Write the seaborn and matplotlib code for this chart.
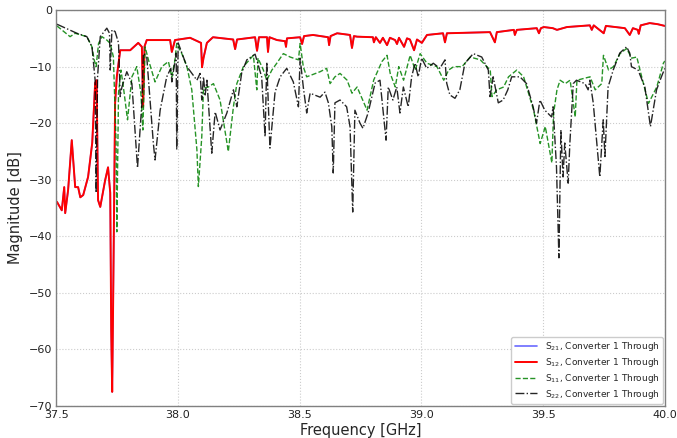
import numpy as np
import pandas as pd
import matplotlib
matplotlib.use("Agg")
import matplotlib.pyplot as plt
import seaborn as sns

# S12 (S21 lies underneath, same trace)
f_s12 = [37.503, 37.523, 37.533, 37.537, 37.549, 37.564, 37.578, 37.590, 37.599, 37.611,
         37.631, 37.648, 37.660, 37.666, 37.672, 37.681, 37.701, 37.713, 37.722, 37.726,
         37.730, 37.734, 37.742, 37.749, 37.763, 37.804, 37.837, 37.852, 37.857, 37.863,
         37.872, 37.968, 37.975, 37.988, 38.050, 38.095, 38.099, 38.105, 38.119, 38.144,
         38.227, 38.235, 38.243, 38.317, 38.325, 38.333, 38.366, 38.370, 38.376, 38.407,
         38.440, 38.444, 38.448, 38.502, 38.510, 38.518, 38.555, 38.617, 38.621, 38.627,
         38.654, 38.707, 38.715, 38.723, 38.736, 38.801, 38.805, 38.813, 38.830, 38.842,
         38.859, 38.871, 38.892, 38.900, 38.908, 38.929, 38.941, 38.953, 38.970, 38.982,
         39.002, 39.023, 39.089, 39.097, 39.105, 39.282, 39.302, 39.310, 39.380, 39.384,
         39.392, 39.474, 39.483, 39.491, 39.503, 39.540, 39.557, 39.598, 39.692, 39.700,
         39.708, 39.749, 39.758, 39.836, 39.856, 39.869, 39.889, 39.893, 39.901, 39.938,
         39.971, 40.000]
db_s12 = [-33.9, -35.4, -31.3, -35.9, -31.8, -23.0, -31.3, -31.3, -33.1, -32.7,
          -29.5, -23.5, -12.9, -12.4, -33.6, -34.8, -30.1, -27.8, -32.3, -56.6,
          -67.5, -51.3, -16.4, -11.8, -7.1, -7.1, -5.8, -6.5, -17.1, -6.4,
          -5.3, -5.3, -7.4, -5.3, -4.9, -5.8, -10.1, -8.5, -5.8, -4.8,
          -5.2, -6.9, -5.2, -4.8, -7.2, -4.8, -4.8, -7.4, -4.8, -5.3,
          -5.5, -6.5, -5.0, -4.8, -6.0, -4.6, -4.4, -4.8, -6.2, -4.6,
          -4.1, -4.4, -6.7, -4.6, -4.7, -4.8, -5.7, -4.8, -5.8, -4.9,
          -6.2, -4.9, -5.3, -6.0, -4.9, -6.5, -5.0, -5.2, -7.1, -5.2,
          -5.8, -4.4, -4.1, -5.7, -4.1, -3.9, -5.7, -3.9, -3.5, -4.4,
          -3.5, -3.2, -4.1, -3.2, -3.0, -3.2, -3.5, -3.0, -2.7, -3.5,
          -2.7, -4.1, -2.8, -3.2, -4.4, -3.2, -3.5, -4.2, -2.7, -2.3,
          -2.5, -2.8]

# S11
f_s11 = [37.503, 37.557, 37.578, 37.626, 37.647, 37.656, 37.664, 37.674, 37.688, 37.708,
         37.722, 37.735, 37.746, 37.749, 37.756, 37.766, 37.776, 37.793, 37.811, 37.831,
         37.848, 37.856, 37.865, 37.879, 37.906, 37.934, 37.961, 37.975, 37.988, 37.995,
         38.016, 38.037, 38.057, 38.078, 38.084, 38.098, 38.105, 38.125, 38.146, 38.173,
         38.207, 38.228, 38.242, 38.269, 38.310, 38.324, 38.329, 38.351, 38.365, 38.386,
         38.406, 38.433, 38.461, 38.495, 38.502, 38.515, 38.529, 38.584, 38.611, 38.625,
         38.645, 38.666, 38.695, 38.715, 38.736, 38.777, 38.804, 38.838, 38.859, 38.872,
         38.893, 38.907, 38.927, 38.954, 38.975, 38.995, 39.023, 39.064, 39.092, 39.112,
         39.133, 39.167, 39.201, 39.242, 39.283, 39.290, 39.310, 39.338, 39.358, 39.392,
         39.420, 39.461, 39.488, 39.509, 39.536, 39.543, 39.557, 39.570, 39.591, 39.611,
         39.632, 39.639, 39.693, 39.714, 39.741, 39.748, 39.769, 39.789, 39.816, 39.843,
         39.864, 39.885, 39.898, 39.933, 39.967, 39.994, 40.000]
db_s11 = [-2.8, -4.7, -4.1, -4.7, -6.5, -8.8, -10.0, -5.9, -4.7, -5.3,
          -5.9, -8.3, -23.5, -39.2, -14.7, -10.6, -13.6, -19.4, -11.8, -10.0,
          -14.7, -21.2, -6.5, -8.8, -12.7, -10.0, -9.1, -11.8, -8.8, -5.9,
          -7.7, -10.0, -14.1, -24.7, -31.2, -22.4, -13.8, -13.6, -13.0, -15.9,
          -25.0, -17.1, -13.0, -10.0, -8.0, -14.1, -8.5, -10.6, -12.4, -10.6,
          -9.4, -7.7, -8.3, -8.8, -5.9, -10.0, -11.8, -10.9, -10.3, -13.0,
          -11.8, -11.2, -12.4, -14.7, -13.6, -17.7, -12.4, -9.1, -8.0, -11.2,
          -13.6, -10.0, -12.4, -8.0, -10.6, -7.7, -9.4, -10.0, -12.4, -10.6,
          -10.0, -10.0, -8.3, -8.8, -10.6, -15.3, -14.1, -13.6, -11.8, -10.6,
          -11.8, -17.7, -23.6, -20.6, -27.0, -18.3, -14.1, -12.4, -13.0, -12.4,
          -18.9, -12.4, -11.8, -14.1, -13.0, -8.0, -10.6, -10.0, -7.7, -6.8,
          -8.5, -8.3, -10.6, -16.5, -13.6, -9.4, -9.0]

# S22
f_s22 = [37.503, 37.585, 37.626, 37.647, 37.660, 37.664, 37.670, 37.681, 37.708, 37.719,
         37.722, 37.729, 37.742, 37.756, 37.763, 37.770, 37.790, 37.811, 37.834, 37.852,
         37.858, 37.872, 37.899, 37.906, 37.927, 37.954, 37.971, 37.975, 37.993, 37.995,
         38.001, 38.037, 38.078, 38.091, 38.098, 38.105, 38.112, 38.119, 38.139, 38.153,
         38.173, 38.201, 38.228, 38.242, 38.262, 38.283, 38.317, 38.344, 38.358, 38.365,
         38.378, 38.399, 38.420, 38.447, 38.474, 38.495, 38.502, 38.515, 38.529, 38.543,
         38.584, 38.604, 38.618, 38.632, 38.638, 38.645, 38.666, 38.693, 38.707, 38.718,
         38.727, 38.748, 38.760, 38.781, 38.810, 38.830, 38.855, 38.864, 38.883, 38.899,
         38.912, 38.926, 38.946, 38.960, 38.974, 38.987, 39.001, 39.022, 39.049, 39.076,
         39.097, 39.104, 39.117, 39.138, 39.158, 39.179, 39.213, 39.248, 39.275, 39.282,
         39.295, 39.316, 39.336, 39.355, 39.371, 39.405, 39.432, 39.459, 39.473, 39.487,
         39.507, 39.535, 39.541, 39.555, 39.565, 39.573, 39.582, 39.589, 39.603, 39.610,
         39.624, 39.637, 39.672, 39.685, 39.692, 39.706, 39.733, 39.747, 39.754, 39.767,
         39.788, 39.815, 39.843, 39.856, 39.863, 39.890, 39.918, 39.941, 39.966, 39.986,
         40.000]
db_s22 = [-2.5, -4.1, -4.7, -6.5, -12.4, -32.3, -11.8, -4.7, -3.2, -4.1,
          -10.6, -3.5, -3.8, -5.8, -15.3, -13.6, -10.9, -13.0, -27.9, -16.4,
          -7.7, -8.3, -23.5, -26.5, -17.7, -11.8, -10.3, -12.7, -7.6, -24.7,
          -5.8, -10.0, -12.4, -11.2, -15.9, -11.8, -15.0, -12.4, -25.3, -18.0,
          -21.2, -18.2, -14.1, -17.1, -11.1, -8.8, -7.8, -11.8, -22.4, -9.2,
          -24.4, -14.5, -11.8, -10.3, -12.7, -17.1, -8.5, -13.6, -18.2, -14.7,
          -15.4, -14.5, -16.4, -20.6, -28.8, -16.4, -15.9, -17.1, -20.6, -35.7,
          -17.7, -20.0, -20.9, -18.2, -12.9, -12.4, -23.0, -13.6, -15.9, -13.6,
          -18.2, -13.6, -17.1, -11.8, -9.4, -11.8, -8.5, -10.3, -9.4, -10.3,
          -8.8, -12.9, -15.0, -15.6, -14.1, -9.4, -7.7, -8.3, -10.6, -15.3,
          -11.8, -16.4, -15.9, -14.1, -11.8, -11.8, -13.0, -17.1, -20.0, -15.9,
          -17.7, -18.9, -17.1, -27.7, -43.8, -21.2, -29.5, -23.5, -30.6, -23.5,
          -13.0, -12.4, -13.0, -14.1, -12.4, -16.4, -29.5, -19.4, -25.9, -13.6,
          -10.6, -7.6, -6.5, -7.6, -10.0, -10.6, -13.6, -20.6, -14.1, -11.8,
          -10.3]

labels = [r"S$_{21}$, Converter 1 Through", r"S$_{12}$, Converter 1 Through",
          r"S$_{11}$, Converter 1 Through", r"S$_{22}$, Converter 1 Through"]

sns.set_style("whitegrid", {"grid.linestyle": ":", "grid.color": "#cccccc",
                            "axes.edgecolor": "#808080"})
plt.rcParams['font.family'] = ['DejaVu Sans']

fig = plt.figure(figsize=(6.77, 4.38), dpi=100)
ax = fig.add_axes([0.083, 0.073, 0.899, 0.904])

sns.lineplot(x=f_s12, y=db_s12, color="#6a6aff", lw=1.2, ax=ax, label=labels[0], estimator=None)
sns.lineplot(x=f_s12, y=db_s12, color="red", lw=1.4, ax=ax, label=labels[1], estimator=None)
sns.lineplot(x=f_s11, y=db_s11, color="green", lw=1.0, ls="--", ax=ax, label=labels[2],
             estimator=None, alpha=0.85)
sns.lineplot(x=f_s22, y=db_s22, color="black", lw=1.0, ls="-.", ax=ax, label=labels[3],
             estimator=None, alpha=0.85)

ax.set_xlim(37.5, 40.0)
ax.set_ylim(-70, 0)
ax.set_xticks([37.5, 38.0, 38.5, 39.0, 39.5, 40.0])
ax.set_xticklabels(["37.5", "38.0", "38.5", "39.0", "39.5", "40.0"])
ax.set_yticks([0, -10, -20, -30, -40, -50, -60, -70])
ax.tick_params(labelsize=8, colors="#222222", length=0, pad=3)
ax.set_xlabel("Frequency [GHz]", fontsize=10.5, labelpad=2)
ax.set_ylabel("Magnitude [dB]", fontsize=10.5, labelpad=4)
for s in ax.spines.values():
    s.set_color("#808080")
    s.set_linewidth(1.0)
ax.legend(loc="lower right", fontsize=6.5, handlelength=2.5, framealpha=1,
          borderpad=0.4, labelspacing=0.3, borderaxespad=0.2)

plt.savefig("out.png", dpi=100)
